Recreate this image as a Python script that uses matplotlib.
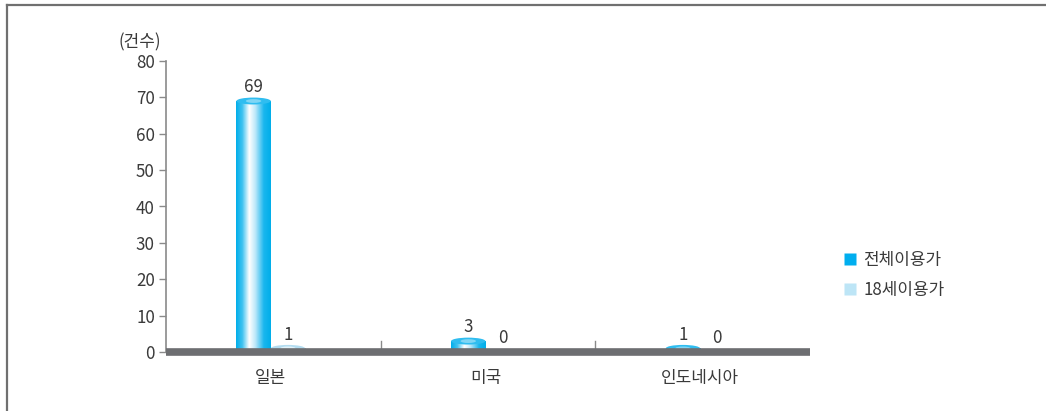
import numpy as np
import matplotlib
matplotlib.use('Agg')
import matplotlib.pyplot as plt
from matplotlib.patches import Ellipse, Rectangle
from matplotlib.colors import LinearSegmentedColormap
from matplotlib.lines import Line2D

plt.rcParams['font.family'] = ['Noto Sans CJK KR', 'DejaVu Sans']

categories = ['일본', '미국', '인도네시아']
series_names = ['전체이용가', '18세이용가']
all_ages = [69, 3, 1]
adult_only = [1, 0, 0]
y_ticks = [0, 10, 20, 30, 40, 50, 60, 70, 80]

W, H = 1046, 411
fig = plt.figure(figsize=(W / 100, H / 100), dpi=100)
ax = fig.add_axes([166 / W, (H - 352) / H, (810 - 166) / W, (352 - 61) / H])

ax.set_xlim(-0.5, 2.5)
ax.set_ylim(0, 80)

text_color = '#3a3a3a'
axis_gray = '#8a8a8a'
fs = 12.2

# shading for the cylinders: dark edges, bright highlight left of centre
blue_cmap = LinearSegmentedColormap.from_list(
    'blue_cyl', [(0, '#00aeea'), (0.18, '#3fc2f0'), (0.38, '#ffffff'),
                 (0.55, '#bfe9fa'), (0.8, '#19b6ee'), (1, '#00aeea')])
light_cmap = LinearSegmentedColormap.from_list(
    'light_cyl', [(0, '#92cde9'), (0.35, '#ffffff'), (0.6, '#d2ecf8'),
                  (1, '#92cde9')])

bar_w = 0.16
shift = -0.012
cap_h = 1.9
grad = np.linspace(0, 1, 256).reshape(1, -1)


def cylinder(x0, value, cmap, top_color, top_light):
    if value <= 0:
        return
    rect = Rectangle((x0, 0), bar_w, value, transform=ax.transData)
    im = ax.imshow(grad, cmap=cmap, aspect='auto',
                   extent=(x0, x0 + bar_w, 0, value), zorder=2)
    im.set_clip_path(rect)
    ax.add_patch(Ellipse((x0 + bar_w / 2, value), bar_w, cap_h,
                         facecolor=top_color, edgecolor='none', zorder=3))
    ax.add_patch(Ellipse((x0 + bar_w * 0.5, value), bar_w * 0.45, cap_h * 0.55,
                         facecolor=top_light, edgecolor='none', zorder=3))


x = np.arange(len(categories))
for i in range(len(categories)):
    left = x[i] + shift
    cylinder(left - bar_w, all_ages[i], blue_cmap, '#2fbdf0', '#7fd6f5')
    cylinder(left, adult_only[i], light_cmap, '#b3dcf0', '#e2f3fa')
    ax.text(left - bar_w / 2, all_ages[i] + 3.8, str(all_ages[i]),
            ha='center', va='center', fontsize=fs, color=text_color)
    ax.text(left + bar_w / 2, adult_only[i] + 3.8, str(adult_only[i]),
            ha='center', va='center', fontsize=fs, color=text_color)

# thick floor under the bars
ax.plot([-0.5, 2.5], [-0.05, -0.05], color='#6d6e71', linewidth=5.5,
        solid_capstyle='butt', clip_on=False, zorder=4)

# small separators between categories
for sx in [0.5, 1.5]:
    ax.plot([sx, sx], [0.5, 3.0], color=axis_gray, linewidth=1, zorder=1)

for s in ['top', 'right', 'bottom']:
    ax.spines[s].set_visible(False)
ax.spines['left'].set_color(axis_gray)
ax.spines['left'].set_linewidth(1.2)

ax.set_yticks(y_ticks)
ax.tick_params(axis='y', length=5, width=1, color=axis_gray,
               labelsize=fs, labelcolor=text_color, pad=3)
ax.set_xticks(x + shift)
ax.set_xticklabels(categories)
ax.tick_params(axis='x', length=0, labelsize=fs, labelcolor=text_color, pad=12)

fig.text(140 / W, 1 - 42 / H, '(건수)', ha='center', va='center',
         fontsize=fs, color=text_color)

handles = [Line2D([], [], marker='s', linestyle='none', markersize=9,
                  markerfacecolor=c, markeredgecolor='none')
           for c in ['#00aeef', '#bde5f6']]
fig.legend(handles, series_names, loc='center left',
           bbox_to_anchor=(826 / W, 1 - 275 / H), frameon=False,
           fontsize=fs, labelcolor=text_color, handletextpad=0.3,
           labelspacing=0.7, handlelength=1.0)

# frame lines on the top and left edges
fig.add_artist(Line2D([7 / W, 1], [1 - 5.5 / H, 1 - 5.5 / H],
                      color='#707070', linewidth=1.6))
fig.add_artist(Line2D([7 / W, 7 / W], [0, 1 - 5.5 / H],
                      color='#707070', linewidth=1.6))

fig.savefig('out.png', dpi=100)
